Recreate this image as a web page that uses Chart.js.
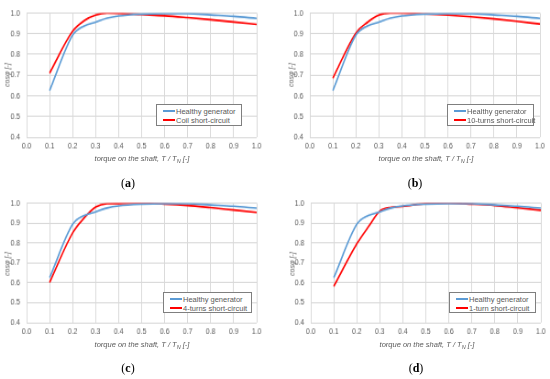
<!DOCTYPE html>
<html>
<head>
<meta charset="utf-8">
<script src="https://cdn.jsdelivr.net/npm/chart.js@4/dist/chart.umd.min.js"></script>
<style>
  html, body { margin: 0; padding: 0; background: #fff; }
  body { width: 550px; height: 379px; position: relative; overflow: hidden; font-family: "Liberation Sans", Arial, sans-serif; }
  .panel { position: absolute; width: 275px; height: 170px; }
  .panel canvas { position: absolute; left: 0; top: 0; }
  .ytitle { position: absolute; font-style: italic; font-size: 7px; color: #595959; transform: translate(-50%, -50%) rotate(-90deg); white-space: nowrap; }
  .xtitle { position: absolute; font-style: italic; font-size: 7.5px; color: #595959; transform: translate(-50%, -50%); white-space: nowrap; }
  .xtitle sub { font-size: 5.5px; vertical-align: -1.5px; }
  .legend { position: absolute; background: #fff; border: 1px solid #7f7f7f; box-sizing: border-box; font-size: 7.5px; color: #595959; padding: 1.5px 0 0 6px; }
  .legend div { height: 9px; line-height: 9px; white-space: nowrap; }
  .legend span.sw { display: inline-block; width: 12px; height: 1.6px; vertical-align: middle; margin-right: 1px; position: relative; top: -0.5px; }
  .caption { position: absolute; font-family: "Liberation Serif", "Times New Roman", serif; font-size: 12px; color: #000; transform: translateX(-50%); }
</style>
</head>
<body>
<script>
// ---- data ----
const torque = [0.1, 0.2, 0.25, 0.3, 0.35, 0.4, 0.5, 0.6, 0.7, 0.8, 0.9, 1.0];
const healthy = [0.625, 0.893, 0.937, 0.956, 0.975, 0.986, 0.995, 0.998, 0.998, 0.991, 0.984, 0.974];
const coilSC = [0.71, 0.912, 0.963, 0.99, 1.0, 0.999, 0.993, 0.987, 0.978, 0.968, 0.957, 0.945];
const turns10SC = [0.685, 0.903, 0.955, 0.99, 1.0, 1.0, 0.996, 0.99, 0.982, 0.972, 0.96, 0.947];
const turns4SC = [0.602, 0.85, 0.925, 0.98, 0.997, 0.998, 0.999, 0.995, 0.988, 0.977, 0.965, 0.953];
const turn1SC = [0.582, 0.795, 0.88, 0.96, 0.979, 0.983, 0.998, 1.0, 0.995, 0.988, 0.976, 0.964];
const healthyLabel = "Healthy generator";
const faultLabels = ["Coil short-circuit", "10-turns short-circuit", "4-turns short-circuit", "1-turn short-circuit"];
const captions = ["a", "b", "c", "d"];
const xTicks = [0.0, 0.1, 0.2, 0.3, 0.4, 0.5, 0.6, 0.7, 0.8, 0.9, 1.0];
const yTicks = [0.4, 0.5, 0.6, 0.7, 0.8, 0.9, 1.0];

const faults = [coilSC, turns10SC, turns4SC, turn1SC];
const BLUE = "#5b9bd5", RED = "#ff0000";
const panels = [
  { left: 0,   top: 0,   area: [29, 9, 255, 141],  legend: [156, 104, 86, 22], cap: [128, 176] },
  { left: 275, top: 0,   area: [313, 9, 539, 141], legend: [447, 104, 87, 22], cap: [415, 176] },
  { left: 0,   top: 190, area: [29, 200, 255, 327], legend: [163, 292, 89, 21], cap: [128, 361] },
  { left: 275, top: 190, area: [314, 200, 540, 327], legend: [449, 292, 87, 21], cap: [416, 361] }
];

function pts(arr) { return torque.map((x, i) => ({ x: x, y: arr[i] })); }

panels.forEach((p, k) => {
  const div = document.createElement("div");
  div.className = "panel";
  div.style.left = p.left + "px";
  div.style.top = p.top + "px";
  const cv = document.createElement("canvas");
  div.appendChild(cv);
  document.body.appendChild(div);

  const [al, at, ar, ab] = p.area;
  const yW = al - p.left;
  const padT = at - p.top;
  const padR = p.left + 275 - ar;
  const xH = 170 - (ab - p.top);

  new Chart(cv, {
    type: "line",
    data: {
      datasets: [
        { label: healthyLabel, data: pts(healthy), borderColor: BLUE, borderWidth: 1.6, pointRadius: 0, cubicInterpolationMode: "monotone", fill: false },
        { label: faultLabels[k], data: pts(faults[k]), borderColor: RED, borderWidth: 1.6, pointRadius: 0, cubicInterpolationMode: "monotone", fill: false }
      ]
    },
    options: {
      responsive: false,
      animation: false,
      devicePixelRatio: 1,
      layout: { padding: { left: 0, top: padT, right: padR, bottom: 0 } },
      plugins: { legend: { display: false }, tooltip: { enabled: false } },
      scales: {
        x: {
          type: "linear", min: 0, max: 1,
          afterBuildTicks: s => { s.ticks = xTicks.map(v => ({ value: v })); },
          afterFit: s => { s.height = xH; },
          ticks: { font: { family: "Liberation Sans", size: 7.5 }, color: "#595959", padding: 3, maxRotation: 0, autoSkip: false, callback: v => v.toFixed(1) },
          grid: { color: "#d9d9d9", lineWidth: 1, drawTicks: false },
          border: { display: false }
        },
        y: {
          min: 0.4, max: 1.0,
          afterBuildTicks: s => { s.ticks = yTicks.map(v => ({ value: v })); },
          afterFit: s => { s.width = yW; },
          ticks: { font: { family: "Liberation Sans", size: 7.5 }, color: "#595959", padding: 7, autoSkip: false, callback: v => v.toFixed(1) },
          grid: { color: "#d9d9d9", lineWidth: 1, drawTicks: false },
          border: { display: false }
        }
      }
    }
  });
  cv.style.width = "275px"; cv.style.height = "170px";

  const yt = document.createElement("div");
  yt.className = "ytitle";
  yt.textContent = "cosφ [-]";
  yt.style.left = (al - 22) + "px";
  yt.style.top = ((at + ab) / 2) + "px";
  document.body.appendChild(yt);

  const xt = document.createElement("div");
  xt.className = "xtitle";
  xt.innerHTML = "torque on the shaft, T / T<sub>N</sub> [-]";
  xt.style.left = ((al + ar) / 2) + "px";
  xt.style.top = (ab + 18) + "px";
  document.body.appendChild(xt);

  const lg = document.createElement("div");
  lg.className = "legend";
  lg.style.left = p.legend[0] + "px";
  lg.style.top = p.legend[1] + "px";
  lg.style.width = p.legend[2] + "px";
  lg.style.height = p.legend[3] + "px";
  lg.innerHTML = '<div><span class="sw" style="background:' + BLUE + '"></span>' + healthyLabel + '</div>' +
                 '<div><span class="sw" style="background:' + RED + '"></span>' + faultLabels[k] + '</div>';
  document.body.appendChild(lg);

  const cp = document.createElement("div");
  cp.className = "caption";
  cp.innerHTML = "(<b>" + captions[k] + "</b>)";
  cp.style.left = p.cap[0] + "px";
  cp.style.top = p.cap[1] + "px";
  document.body.appendChild(cp);
});
</script>
</body>
</html>
